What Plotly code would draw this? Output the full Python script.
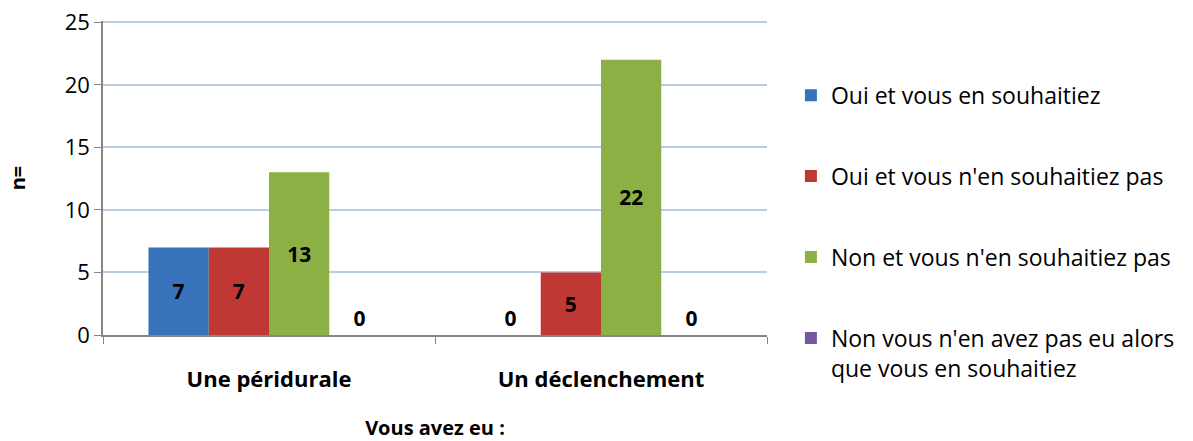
import plotly.graph_objects as go

categories = ["Une péridurale", "Un déclenchement"]
series_names = [
    "Oui et vous en souhaitiez",
    "Oui et vous n'en souhaitiez pas",
    "Non et vous n'en souhaitiez pas",
    "Non vous n'en avez pas eu alors<br>que vous en souhaitiez",
]
oui_souhait = [7, 0]
oui_pas_souhait = [7, 5]
non_pas_souhait = [13, 22]
non_souhait = [0, 0]
y_ticks = [0, 5, 10, 15, 20, 25]
colors = ["#3772BA", "#BF3834", "#8DB045", "#7459A0"]

FONT = "Open Sans"

fig = go.Figure()
for i, (name, vals) in enumerate(
    zip(series_names, [oui_souhait, oui_pas_souhait, non_pas_souhait, non_souhait])
):
    fig.add_trace(
        go.Bar(
            x=categories,
            y=vals,
            name=name,
            legendgroup=f"g{i}",
            marker=dict(color=colors[i], line=dict(width=0)),
            text=[str(v) for v in vals],
            textposition=["outside" if v == 0 else "inside" for v in vals],
            insidetextanchor="middle",
            textfont=dict(family=FONT, size=21, color="black", weight="bold"),
            textangle=0,
            cliponaxis=False,
        )
    )

fig.update_layout(
    width=1193,
    height=441,
    margin=dict(l=103, r=426, t=21, b=106, autoexpand=False),
    paper_bgcolor="white",
    plot_bgcolor="white",
    barmode="group",
    bargap=0.274,
    bargroupgap=0,
    font=dict(family=FONT, size=20, color="black"),
    legend=dict(
        x=1.036,
        y=0.832,
        xanchor="left",
        yanchor="top",
        tracegroupgap=48,
        valign="top",
        maxheight=600,
        font=dict(family=FONT, size=23, color="black"),
        itemclick=False,
    ),
    xaxis=dict(
        automargin=False,
        showline=True,
        linecolor="#868686",
        linewidth=1.5,
        ticks="outside",
        ticklen=7,
        tickcolor="#868686",
        tickson="boundaries",
        tickfont=dict(family=FONT, size=22, color="black", weight="bold"),
        ticklabelstandoff=24,
        showgrid=False,
        title=dict(
            text="<b>Vous avez eu :</b>",
            font=dict(family=FONT, size=20, color="black"),
            standoff=35,
        ),
    ),
    yaxis=dict(
        automargin=False,
        range=[0, 25.1],
        tickvals=y_ticks,
        ticklabeloverflow="allow",
        showline=True,
        linecolor="#868686",
        linewidth=1.5,
        ticks="outside",
        ticklen=7,
        tickcolor="#868686",
        tickfont=dict(family=FONT, size=22, color="black"),
        showgrid=True,
        gridcolor="#B9CCE8",
        gridwidth=2,
        zeroline=False,
        title=dict(
            text="<b>n=</b>",
            font=dict(family=FONT, size=20, color="black"),
            standoff=34,
        ),
    ),
)

# drop the default 8px body margin so the figure fills the window exactly
fig.write_html(
    "out.html",
    config={"displayModeBar": False},
    post_script="document.body.style.margin = '0';",
)
